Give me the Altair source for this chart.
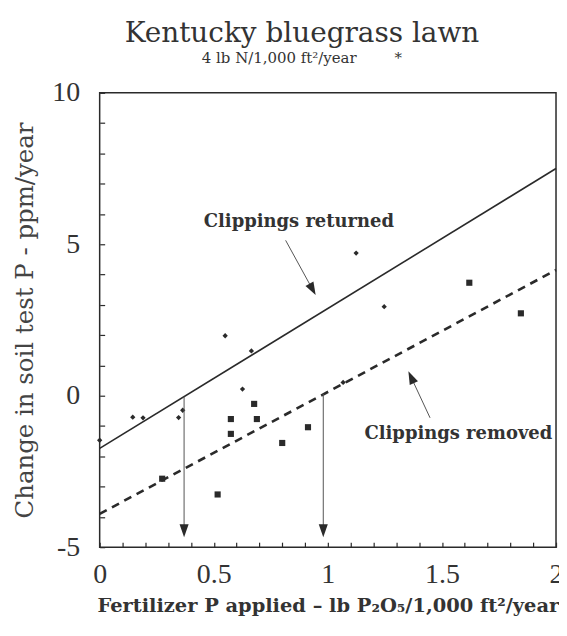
import altair as alt
import pandas as pd

# ---- data ----
ret_x = [0.0, 0.145, 0.19, 0.346, 0.364, 0.55, 0.665, 0.626, 1.067, 1.124, 1.247]
ret_y = [-1.47, -0.71, -0.73, -0.72, -0.48, 1.98, 1.48, 0.22, 0.44, 4.71, 2.94]
rem_x = [0.274, 0.517, 0.575, 0.575, 0.677, 0.689, 0.80, 0.913, 1.62, 1.846]
rem_y = [-2.74, -3.26, -0.77, -1.26, -0.27, -0.77, -1.56, -1.04, 3.73, 2.72]

line_x = [0.0, 2.0]
ret_line_y = [-1.74, 7.5]
rem_line_y = [-3.9, 4.15]

drop_x = [0.37, 0.98]
drop_top = [-0.03, 0.06]
drop_bottom = [-4.46, -4.46]

label_text = ["Clippings returned", "Clippings removed"]
label_x = [0.873, 1.572]
label_y = [5.72, -1.28]
ptr_x = [0.815, 1.448]
ptr_y = [5.13, -0.73]
ptr_x2 = [0.933, 1.365]
ptr_y2 = [3.51, 0.61]
ptr_angle = [331.4, 155.0]

x_ticks = [round(i / 10, 1) for i in range(0, 21)]
y_ticks = list(range(-5, 11))

SERIF = "DejaVu Serif"
NUMF = "Liberation Serif"
INK = "#2a2a2a"
TXT = "#333333"
W, H = 458, 456

pts = pd.DataFrame({
    "x": ret_x + rem_x,
    "y": ret_y + rem_y,
    "g": ["returned"] * len(ret_x) + ["removed"] * len(rem_x),
})
ret_line = pd.DataFrame({"x": line_x, "y": ret_line_y})
rem_line = pd.DataFrame({"x": line_x, "y": rem_line_y})
drops = pd.DataFrame({"x": drop_x, "y": drop_top, "y2": drop_bottom})
labels = pd.DataFrame({"x": label_x, "y": label_y, "t": label_text})
ptrs = pd.DataFrame({"x": ptr_x, "y": ptr_y, "x2": ptr_x2, "y2": ptr_y2, "a": ptr_angle})

xs = alt.Scale(domain=[0, 2], nice=False, zero=False)
ys = alt.Scale(domain=[-5, 10], nice=False, zero=False)

MAJOR_X = "abs(datum.value*2 - round(datum.value*2)) < 0.001"

# inward ticks: negative tick size (given as an expression), axes drawn on top
AX_X = alt.Axis(
    orient="bottom", values=x_ticks, zindex=1,
    labelExpr="(" + MAJOR_X + ") ? format(datum.value, '.1~f') : ''",
    ticks=True, tickSize={"expr": "-5"}, tickColor=INK, tickWidth=1.2,
    domain=False, labelPadding=18, labelFontSize=28, labelFont=NUMF,
    labelColor=TXT, labelFlush=False, labelOverlap=False,
    title="Fertilizer P applied \u2013 lb P\u2082O\u2085/1,000 ft\u00b2/year",
    titleFont=SERIF, titleFontSize=19.5, titleFontWeight="bold", titleColor=TXT,
    titlePadding=9)
AX_Y = alt.Axis(
    orient="left", values=y_ticks, zindex=1,
    labelExpr="datum.value % 5 === 0 ? '' + datum.value : ''",
    ticks=True, tickSize={"expr": "-5"}, tickColor=INK, tickWidth=1.2,
    domain=False, labelPadding=25, labelFontSize=28, labelFont=NUMF,
    labelColor=TXT, labelFlush=False, labelOverlap=False,
    title="Change in soil test P - ppm/year", titleFont=SERIF, titleFontSize=24.5,
    titleFontWeight="normal", titleColor="#444444", titlePadding=14)

# every layer carries the same axis definition so that they merge into one
def X(f="x"):
    return alt.X(f"{f}:Q", scale=xs, axis=AX_X)

def Y(f="y"):
    return alt.Y(f"{f}:Q", scale=ys, axis=AX_Y)

ARROW = "M-0.7,-1L0.7,-1L0,1Z"

main = alt.Chart(pts).mark_point(filled=True, opacity=1, color=INK).encode(
    x=X(), y=Y(),
    shape=alt.Shape("g:N", scale=alt.Scale(domain=["returned", "removed"],
                                          range=["diamond", "square"]), legend=None),
    size=alt.Size("g:N", scale=alt.Scale(domain=["returned", "removed"],
                                        range=[28, 38]), legend=None),
)

solid = alt.Chart(ret_line).mark_line(color=INK, strokeWidth=1.6).encode(x=X(), y=Y())
dashed = alt.Chart(rem_line).mark_line(color=INK, strokeWidth=2.6, strokeDash=[8, 6]).encode(
    x=X(), y=Y())

drop_rules = alt.Chart(drops).mark_rule(color="#555555", strokeWidth=1).encode(
    x=X(), y=Y(), y2="y2:Q")
drop_heads = alt.Chart(drops).mark_point(shape=ARROW, filled=True, size=169, opacity=1,
                                         color=INK).encode(x=X(), y=Y("y2"))

ptr_rules = alt.Chart(ptrs).mark_rule(color="#555555", strokeWidth=1).encode(
    x=X(), y=Y(), x2="x2:Q", y2="y2:Q")
ptr_heads = alt.Chart(ptrs).mark_point(shape=ARROW, filled=True, size=169, opacity=1,
                                       color=INK).encode(
    x=X("x2"), y=Y("y2"), angle=alt.Angle("a:Q", scale=None))

texts = alt.Chart(labels).mark_text(font=SERIF, fontSize=18, fontWeight="bold", color=TXT,
                                    align="center", baseline="middle").encode(
    x=X(), y=Y(), text="t:N")

chart = alt.layer(
    main, solid, dashed, drop_rules, drop_heads, ptr_rules, ptr_heads, texts
).properties(
    width=W, height=H,
    autosize="none",
    padding={"left": 92, "top": 84, "right": 3, "bottom": 80},
    title=alt.TitleParams(
        text="Kentucky bluegrass lawn",
        subtitle="4 lb N/1,000 ft\u00b2/year\u00a0\u00a0\u00a0\u00a0\u00a0\u00a0\u00a0\u00a0*",
        anchor="middle", frame="group", dx=-26, offset=13,
        font=SERIF, fontSize=28, fontWeight="normal", color=TXT,
        subtitleFont=SERIF, subtitleFontSize=15, subtitleColor=TXT, subtitlePadding=3),
).configure_view(stroke=INK, strokeWidth=1.5).configure_axis(grid=False)

chart.save("out.html", embed_options={"renderer": "svg", "actions": False})
